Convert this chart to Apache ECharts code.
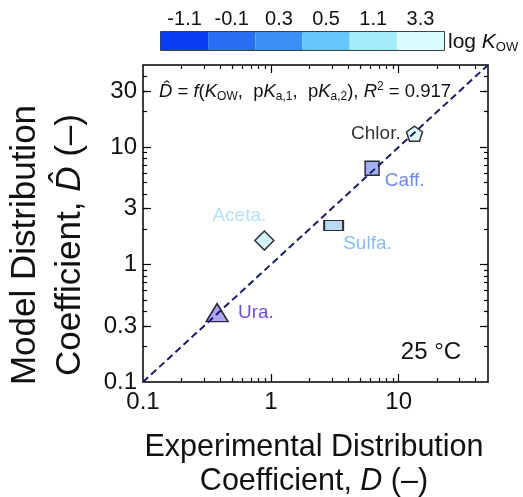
<!DOCTYPE html>
<html>
<head>
<meta charset="utf-8">
<script src="https://cdn.jsdelivr.net/npm/echarts@6/dist/echarts.min.js"></script>
<style>
  html, body { margin: 0; padding: 0; background: #fff; }
  #chart { width: 523px; height: 497px; }
</style>
</head>
<body>
<div id="chart"></div>
<script>
// data
var compounds = ["Chlor.", "Caff.", "Sulfa.", "Aceta.", "Ura."];
var experimentalD = [13.3, 6.2, 3.1, 0.89, 0.38];
var modelD = [13.0, 6.6, 2.15, 1.6, 0.39];

var kowLabels = ["-1.1", "-0.1", "0.3", "0.5", "1.1", "3.3"];
var kowColors = ["#0b3cf4", "#2a6ef4", "#3c90f4", "#66c6f9", "#a2ecfc", "#d8fcff"];

var xLabelTicks = [0.1, 1, 10];
var yLabelTicks = [0.1, 0.3, 1, 3, 10, 30];
var xMajorTicks = [1, 10];
var yMajorTicks = [0.3, 1, 3, 10, 30];
var minorTicks = [0.2, 0.3, 0.4, 0.5, 0.6, 0.7, 0.8, 0.9, 2, 3, 4, 5, 6, 7, 8, 9, 20, 30, 40];
var fitLine = [[0.1, 0.1], [50, 50]];
var axisMin = 0.1, axisMax = 50;

// marker styles
var symbols = [
  "path://M0,-10L9.51,-3.09L5.88,8.09L-5.88,8.09L-9.51,-3.09Z",
  "rect", "rect", "diamond", "triangle"
];
var symbolSizes = [[16, 15], [14, 14], [19, 10], [19, 19], [22, 18]];
var fills = ["#d9f6ff", "#8b9ff0", "#a9cef5", "#c9f1fb", "#9a8ef0"];
var labelColors = ["#000000", "#4a6be6", "#6aaaf2", "#a0d9f5", "#4a1fd6"];
var labelPos = [
  { position: "left", distance: 5, offset: [0, 0] },
  { position: "right", distance: 5, offset: [0, 12] },
  { position: "right", distance: 5, offset: [-6, 18] },
  { position: "top", distance: 5, offset: [-25, 0] },
  { position: "right", distance: 5, offset: [4, 0] }
];

var FONT = "Liberation Sans, Arial, Helvetica, sans-serif";
var chart = echarts.init(document.getElementById("chart"));

var plotRect = { left: 143, top: 65, width: 345, height: 317 };
var logSpan = Math.log10(axisMax / axisMin);

// tick-only value axes in log10 space; the range is shifted so that zero
// sits on the frame edge and the axis lands there through onZero
function tickAxis(grid, side, values, len) {
  var lowSide = side === "bottom" || side === "left";
  var ref = lowSide ? axisMin : axisMax;
  return {
    type: "value",
    gridIndex: grid,
    position: side,
    min: lowSide ? 0 : -logSpan,
    max: lowSide ? logSpan : 0,
    splitLine: { show: false },
    axisLine: { show: false },
    axisLabel: { show: false },
    axisTick: {
      show: true,
      inside: true,
      length: len,
      customValues: values.map(function (v) { return Math.log10(v / ref); }),
      lineStyle: { color: "#000", width: 1.2 }
    }
  };
}

var scatterData = compounds.map(function (name, i) {
  return {
    name: name,
    value: [experimentalD[i], modelD[i]],
    symbol: symbols[i],
    symbolSize: symbolSizes[i],
    itemStyle: { color: fills[i], borderColor: "#000", borderWidth: 1.5 },
    label: Object.assign({ color: labelColors[i] }, labelPos[i])
  };
});

var option = {
  animation: false,
  backgroundColor: "#fff",
  textStyle: { fontFamily: FONT },
  grid: [
    Object.assign({ show: true, borderColor: "#000", borderWidth: 1.5 }, plotRect),
    Object.assign({}, plotRect),
    Object.assign({}, plotRect),
    Object.assign({}, plotRect),
    Object.assign({}, plotRect),
    { left: 161, top: 32, width: 283, height: 18, show: true, borderColor: "#000", borderWidth: 1.5 }
  ],
  xAxis: [
    {
      type: "log",
      logBase: 10,
      min: axisMin,
      max: axisMax,
      gridIndex: 0,
      position: "bottom",
      splitLine: { show: false },
      axisLine: { show: false, onZero: false },
      axisTick: { show: false },
      axisLabel: { customValues: xLabelTicks, fontSize: 24, color: "#111", margin: 8, fontFamily: FONT }
    },
    tickAxis(1, "bottom", minorTicks, 4),
    tickAxis(2, "bottom", xMajorTicks, 8),
    tickAxis(3, "top", minorTicks, 4),
    tickAxis(4, "top", xMajorTicks, 8),
    {
      type: "category",
      gridIndex: 5,
      position: "top",
      data: kowLabels,
      axisLine: { show: false },
      axisTick: { show: false },
      axisLabel: { fontSize: 20, color: "#111", margin: 3, fontFamily: FONT }
    }
  ],
  yAxis: [
    {
      type: "log",
      logBase: 10,
      min: axisMin,
      max: axisMax,
      gridIndex: 0,
      position: "left",
      splitLine: { show: false },
      axisLine: { show: false, onZero: false },
      axisTick: { show: false },
      axisLabel: { customValues: yLabelTicks, fontSize: 24, color: "#111", margin: 6, fontFamily: FONT }
    },
    tickAxis(1, "left", minorTicks, 4),
    tickAxis(2, "left", yMajorTicks, 8),
    tickAxis(3, "right", minorTicks, 4),
    tickAxis(4, "right", yMajorTicks, 8),
    {
      type: "value",
      gridIndex: 5,
      min: 0,
      max: 1,
      show: false
    }
  ],
  series: [
    {
      type: "scatter",
      xAxisIndex: 0,
      yAxisIndex: 0,
      z: 2,
      data: scatterData,
      label: {
        show: true,
        formatter: "{b}",
        fontSize: 19,
        fontFamily: FONT,
        textBorderWidth: 0
      }
    },
    {
      type: "line",
      xAxisIndex: 0,
      yAxisIndex: 0,
      z: 3,
      data: fitLine,
      symbol: "none",
      lineStyle: { color: "#1c1c6a", width: 2, type: [7, 4] }
    },
    {
      type: "bar",
      xAxisIndex: 5,
      yAxisIndex: 5,
      barWidth: "100%",
      barCategoryGap: 0,
      data: kowColors.map(function (c) {
        return { value: 1, itemStyle: { color: c } };
      })
    }
  ],
  graphic: [
    {
      type: "text",
      x: 448,
      y: 42,
      style: {
        text: "log {i|K}{sub|OW}",
        font: "21px " + FONT,
        fill: "#111",
        textVerticalAlign: "middle",
        rich: {
          i: { fontStyle: "italic", fontSize: 21, fontFamily: FONT },
          sub: { fontSize: 13, padding: [10, 0, 0, 0], fontFamily: FONT }
        }
      }
    },
    {
      type: "text",
      x: 159,
      y: 92,
      z: 10,
      style: {
        text: "{i|D\u0302} = {i|f}({i|K}{sub|OW},  p{i|K}{sub|a,1},  p{i|K}{sub|a,2}), {i|R}{sup|2} = 0.917",
        font: "18.5px " + FONT,
        fill: "#111",
        textVerticalAlign: "middle",
        rich: {
          i: { fontStyle: "italic", fontSize: 18.5, fontFamily: FONT },
          sub: { fontSize: 12, padding: [10, 0, 0, 0], fontFamily: FONT },
          sup: { fontSize: 12, padding: [0, 0, 10, 0], fontFamily: FONT }
        }
      }
    },
    {
      type: "text",
      x: 431,
      y: 352,
      style: {
        text: "25 \u00b0C",
        font: "24px " + FONT,
        fill: "#111",
        textAlign: "center",
        textVerticalAlign: "middle"
      }
    },
    {
      type: "text",
      x: 314,
      y: 465,
      style: {
        text: "Experimental Distribution\nCoefficient, {i|D} (\u2013)",
        font: "30.5px " + FONT,
        fill: "#111",
        textAlign: "center",
        textVerticalAlign: "middle",
        lineHeight: 34,
        rich: {
          i: { fontStyle: "italic", fontSize: 30.5, fontFamily: FONT, lineHeight: 34 }
        }
      }
    },
    {
      type: "text",
      x: 48,
      y: 245,
      rotation: Math.PI / 2,
      style: {
        text: "Model Distribution\nCoefficient, {i|D\u0302} (\u2013)",
        font: "35px " + FONT,
        fill: "#111",
        textAlign: "center",
        textVerticalAlign: "middle",
        lineHeight: 45,
        rich: {
          i: { fontStyle: "italic", fontSize: 35, fontFamily: FONT, lineHeight: 45 }
        }
      }
    }
  ]
};

chart.setOption(option);
</script>
</body>
</html>
